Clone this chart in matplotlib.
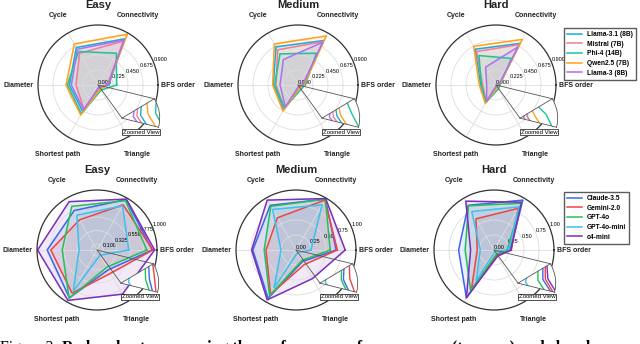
import numpy as np
import matplotlib
matplotlib.use("Agg")
import matplotlib.pyplot as plt
from matplotlib.lines import Line2D

plt.rcParams['font.family'] = ['Liberation Sans', 'DejaVu Sans']

# axis order: BFS order, Connectivity, Cycle, Diameter, Shortest path, Triangle
categories = ["BFS order", "Connectivity", "Cycle", "Diameter", "Shortest path", "Triangle"]

open_models = ["Llama-3.1 (8B)", "Mistral (7B)", "Phi-4 (14B)", "Qwen2.5 (7B)", "Llama-3 (8B)"]
open_colors = ["#1ca9dc", "#f27b9c", "#1cc49a", "#ffa11c", "#ab72f2"]
closed_models = ["Claude-3.5", "Gemini-2.0", "GPT-4o", "GPT-4o-mini", "o4-mini"]
closed_colors = ["#3b68ea", "#ef4444", "#22c25a", "#3ec0f0", "#7a2fbe"]

open_easy = [
    [0.16, 0.80, 0.65, 0.43, 0.46, 0.05],
    [0.14, 0.76, 0.55, 0.33, 0.42, 0.04],
    [0.28, 0.55, 0.58, 0.46, 0.50, 0.09],
    [0.15, 0.88, 0.71, 0.48, 0.52, 0.07],
    [0.15, 0.78, 0.62, 0.40, 0.43, 0.03],
]
open_medium = [
    [0.08, 0.77, 0.66, 0.37, 0.43, 0.04],
    [0.07, 0.75, 0.61, 0.33, 0.41, 0.03],
    [0.11, 0.55, 0.54, 0.35, 0.40, 0.08],
    [0.09, 0.85, 0.71, 0.38, 0.45, 0.05],
    [0.07, 0.74, 0.44, 0.27, 0.38, 0.02],
]
open_hard = [
    [0.05, 0.72, 0.62, 0.23, 0.30, 0.02],
    [0.05, 0.70, 0.58, 0.20, 0.29, 0.02],
    [0.06, 0.46, 0.51, 0.22, 0.30, 0.07],
    [0.05, 0.79, 0.67, 0.25, 0.32, 0.04],
    [0.04, 0.66, 0.31, 0.14, 0.28, 0.01],
]
closed_easy = [
    [0.92, 0.97, 0.76, 0.83, 0.92, 0.38],
    [0.93, 0.87, 0.58, 0.77, 0.83, 0.45],
    [0.83, 0.95, 0.84, 0.58, 0.93, 0.33],
    [0.53, 0.85, 0.67, 0.30, 0.79, 0.10],
    [0.96, 0.98, 0.93, 0.99, 0.97, 0.85],
]
closed_medium = [
    [0.67, 0.98, 0.86, 0.72, 0.93, 0.22],
    [0.69, 0.96, 0.62, 0.50, 0.85, 0.28],
    [0.57, 0.98, 0.84, 0.53, 0.88, 0.20],
    [0.25, 0.87, 0.78, 0.25, 0.73, 0.05],
    [0.82, 0.99, 0.96, 0.74, 0.96, 0.55],
]
closed_hard = [
    [0.27, 0.96, 0.86, 0.59, 0.92, 0.10],
    [0.29, 0.80, 0.60, 0.28, 0.75, 0.11],
    [0.22, 0.90, 0.85, 0.48, 0.78, 0.08],
    [0.25, 0.83, 0.74, 0.23, 0.59, 0.03],
    [0.28, 0.92, 0.94, 0.39, 0.92, 0.12],
]

open_ticks = [0.0, 0.225, 0.45, 0.675, 0.9]
easy_closed_ticks = [0.1, 0.325, 0.55, 0.775, 1.0]
closed_ticks = [0.0, 0.25, 0.5, 0.75, 1.0]

W, H = 640, 344
fig = plt.figure(figsize=(6.4, 3.44), dpi=100)

R = 60
angles = np.radians(np.arange(6) * 60)
closed_ang = np.concatenate([angles, angles[:1]])


def rect(cx, cy, w, h):
    return [(cx - w / 2) / W, 1 - (cy + h / 2) / H, w / W, h / H]


panels = [
    (98, 85, "Easy", open_easy, open_models, open_colors, 0.9, open_ticks, "%.3f", 0.1),
    (298, 85, "Medium", open_medium, open_models, open_colors, 0.9, open_ticks, "%.3f", 0.1),
    (496, 85, "Hard", open_hard, open_models, open_colors, 0.9, open_ticks, "%.3f", 0.1),
    (97, 250, "Easy", closed_easy, closed_models, closed_colors, 1.0, easy_closed_ticks, "%.3f", 0.5),
    (296, 250, "Medium", closed_medium, closed_models, closed_colors, 1.0, closed_ticks, "%.2f", 0.35),
    (494, 250, "Hard", closed_hard, closed_models, closed_colors, 1.0, closed_ticks, "%.2f", 0.15),
]

th0, th1 = -82.5, -37.5
insets = []
for cx, cy, title, data, models, colors, rmax, ticks, fmt, zmax in panels:
    ax = fig.add_axes(rect(cx, cy, 2 * R, 2 * R), projection='polar')
    for row, col, name in zip(data, colors, models):
        vals = np.concatenate([row, row[:1]])
        ax.plot(closed_ang, vals, color=col, lw=1.1, label=name)
        ax.fill(closed_ang, vals, color=col, alpha=0.1)
    ax.set_ylim(0, rmax)
    ax.set_yticks(ticks)
    ax.set_yticklabels([fmt % t for t in ticks], fontsize=4)
    ax.set_rlabel_position(22.5)
    ax.set_xticks(angles)
    ax.set_xticklabels([])
    ax.grid(color='#dddddd', lw=0.6)
    ax.spines['polar'].set_color('#333333')
    ax.spines['polar'].set_linewidth(0.9)
    for a, name in zip(angles, categories):
        ax.text(a, rmax * 1.33, name, ha='center', va='center', fontsize=5,
                fontweight='bold', color='#222222')
    fig.text(cx / W, 1 - (cy - 80) / H, title, ha='center', va='center',
             fontsize=8, fontweight='bold', color='#222222')

    # zoomed inset on the Triangle axis
    ins = fig.add_axes(rect(cx + 43, cy + 28, 44, 38), projection='polar')
    for row, col in zip(data, colors):
        vals = np.concatenate([row, row[:1]])
        ins.plot(closed_ang, vals, color=col, lw=1.0)
    ins.set_thetamin(th0)
    ins.set_thetamax(th1)
    ins.set_theta_offset(np.radians(68.5))
    ins.set_ylim(0, zmax)
    ins.set_xticks([])
    ins.set_yticks([])
    ins.grid(False)
    for s in ins.spines.values():
        s.set_color('#555555')
        s.set_linewidth(0.6)
    fig.text((cx + 43) / W, 1 - (cy + 47) / H, "Zoomed View", ha='center', va='center',
             fontsize=4.3, bbox=dict(boxstyle='square,pad=0.15', fc='white', ec='#333333', lw=0.6))
    insets.append((ax, ins, zmax))

    if title == "Hard":
        top = 28 if rmax < 1 else 192
        fig.legend(*ax.get_legend_handles_labels(), loc='upper left',
                   bbox_to_anchor=(564 / W, 1 - top / H),
                   prop={'weight': 'bold', 'size': 4.8}, frameon=True, fancybox=False,
                   edgecolor='#333333', handlelength=2.3, labelspacing=0.4,
                   borderpad=0.45, handletextpad=0.7, borderaxespad=0)

fig.canvas.draw()
inv = fig.transFigure.inverted()
for ax, ins, zmax in insets:
    c = inv.transform(ax.transData.transform((0, 0)))
    tip = inv.transform(ins.transData.transform((0, 0)))
    corner = inv.transform(ins.transData.transform((np.radians(th1), zmax)))
    for p in (tip, corner):
        fig.lines.append(Line2D([c[0], p[0]], [c[1], p[1]], transform=fig.transFigure,
                                color='#555555', lw=0.6, zorder=5))

# caption, cut off at the bottom edge as in the source page
renderer = fig.canvas.get_renderer()
t1 = fig.text(0.0, -8 / H, "Figure 2: ", fontsize=11.4, family='Liberation Serif',
              va='baseline', ha='left')
bb = t1.get_window_extent(renderer)
fig.text(bb.x1 / W, -8 / H,
         "Radar charts comparing the performance of open-source (top row) and closed-source",
         fontsize=11.4, family='Liberation Serif', fontweight='bold', va='baseline', ha='left')

fig.savefig("out.png", dpi=100)
